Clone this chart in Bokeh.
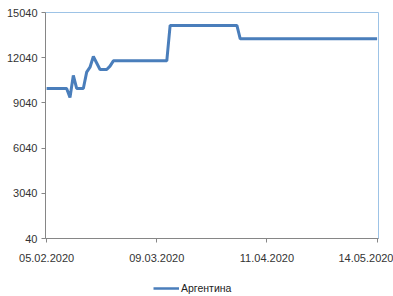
import pandas as pd
from bokeh.plotting import figure
from bokeh.layouts import column
from bokeh.models import FixedTicker, DatetimeTickFormatter, Legend, Range1d, ColumnDataSource
from bokeh.embed import file_html
from bokeh.resources import INLINE

# ---- data ----
start_date = "2020-02-05"
argentina = [
    10000, 10000, 10000, 10000, 10000, 10000, 10000,
    9400, 10860,
    10000, 10000, 10000,
    11080, 11410, 12120, 11690,
    11260, 11260, 11260,
    11480,
    11830, 11830, 11830, 11830, 11830, 11830, 11830, 11830, 11830,
    11830, 11830, 11830, 11830, 11830, 11830, 11830, 11830,
    14180, 14180, 14180, 14180, 14180, 14180, 14180, 14180, 14180, 14180,
    14180, 14180, 14180, 14180, 14180, 14180, 14180, 14180, 14180, 14180, 14180,
    13290, 13290, 13290, 13290, 13290, 13290, 13290, 13290, 13290, 13290,
    13290, 13290, 13290, 13290, 13290, 13290, 13290, 13290, 13290, 13290,
    13290, 13290, 13290, 13290, 13290, 13290, 13290, 13290, 13290, 13290,
    13290, 13290, 13290, 13290, 13290, 13290, 13290, 13290, 13290, 13290,
    13290, 13290,
]
dates = pd.date_range(start_date, periods=len(argentina), freq="D")
y_ticks = [40, 3040, 6040, 9040, 12040, 15040]
x_tick_labels = ["2020-02-05", "2020-03-09", "2020-04-11", "2020-05-14"]
series_name = "Аргентина"

src = ColumnDataSource(dict(x=dates, y=argentina))

FONT = "Liberation Sans"
TXT = "#333333"
LINE = "#4A7EBB"

x0 = pd.Timestamp("2020-02-05") - pd.Timedelta(hours=8)
x1 = pd.Timestamp("2020-05-14") + pd.Timedelta(hours=10)

p = figure(width=393, height=272, x_axis_type="datetime",
           x_range=Range1d(x0, x1), y_range=Range1d(40, 15040),
           output_backend="svg", toolbar_location=None,
           min_border_left=45, min_border_right=15, min_border_top=12, min_border_bottom=34)
p.outline_line_color = "#9DC3E6"
p.outline_line_width = 1
p.grid.visible = False
p.background_fill_color = "white"
p.border_fill_color = "white"

r = p.line("x", "y", source=src, line_color=LINE, line_width=3)

p.yaxis.ticker = FixedTicker(ticks=y_ticks)
p.xaxis.ticker = FixedTicker(ticks=[pd.Timestamp(d).value / 1e6 for d in x_tick_labels])
p.xaxis.formatter = DatetimeTickFormatter(days="%d.%m.%Y", months="%d.%m.%Y", years="%d.%m.%Y")

for ax in (p.xaxis[0], p.yaxis[0]):
    ax.axis_line_color = "#868686"
    ax.major_tick_line_color = "#868686"
    ax.major_tick_out = 4
    ax.major_tick_in = 0
    ax.minor_tick_line_color = None
    ax.major_label_text_font = FONT
    ax.major_label_text_font_size = "11px"
    ax.major_label_text_color = TXT
p.yaxis.major_label_standoff = 4
p.xaxis.major_label_standoff = 11

# legend strip below the chart (same series, kept out of view; only its legend shows)
pl = figure(width=393, height=24, output_backend="svg", toolbar_location=None,
            x_axis_location=None, y_axis_location=None,
            x_range=Range1d(0, 1), y_range=Range1d(0, 1),
            min_border=0, min_border_left=0, min_border_right=0,
            min_border_top=0, min_border_bottom=0)
pl.outline_line_color = None
pl.grid.visible = False
rl = pl.line("x", "y", source=src, line_color=LINE, line_width=2.5)

legend = Legend(items=[(series_name, [rl])], location=(108, 2),
                orientation="horizontal", margin=0, padding=0,
                glyph_width=26, glyph_height=12, label_height=12,
                label_standoff=2, border_line_color=None,
                background_fill_alpha=0,
                label_text_font=FONT, label_text_font_size="10.5px",
                label_text_color="#222222")
pl.add_layout(legend, "center")

layout = column(p, pl, spacing=0)
open("out.html", "w").write(file_html(layout, INLINE))
